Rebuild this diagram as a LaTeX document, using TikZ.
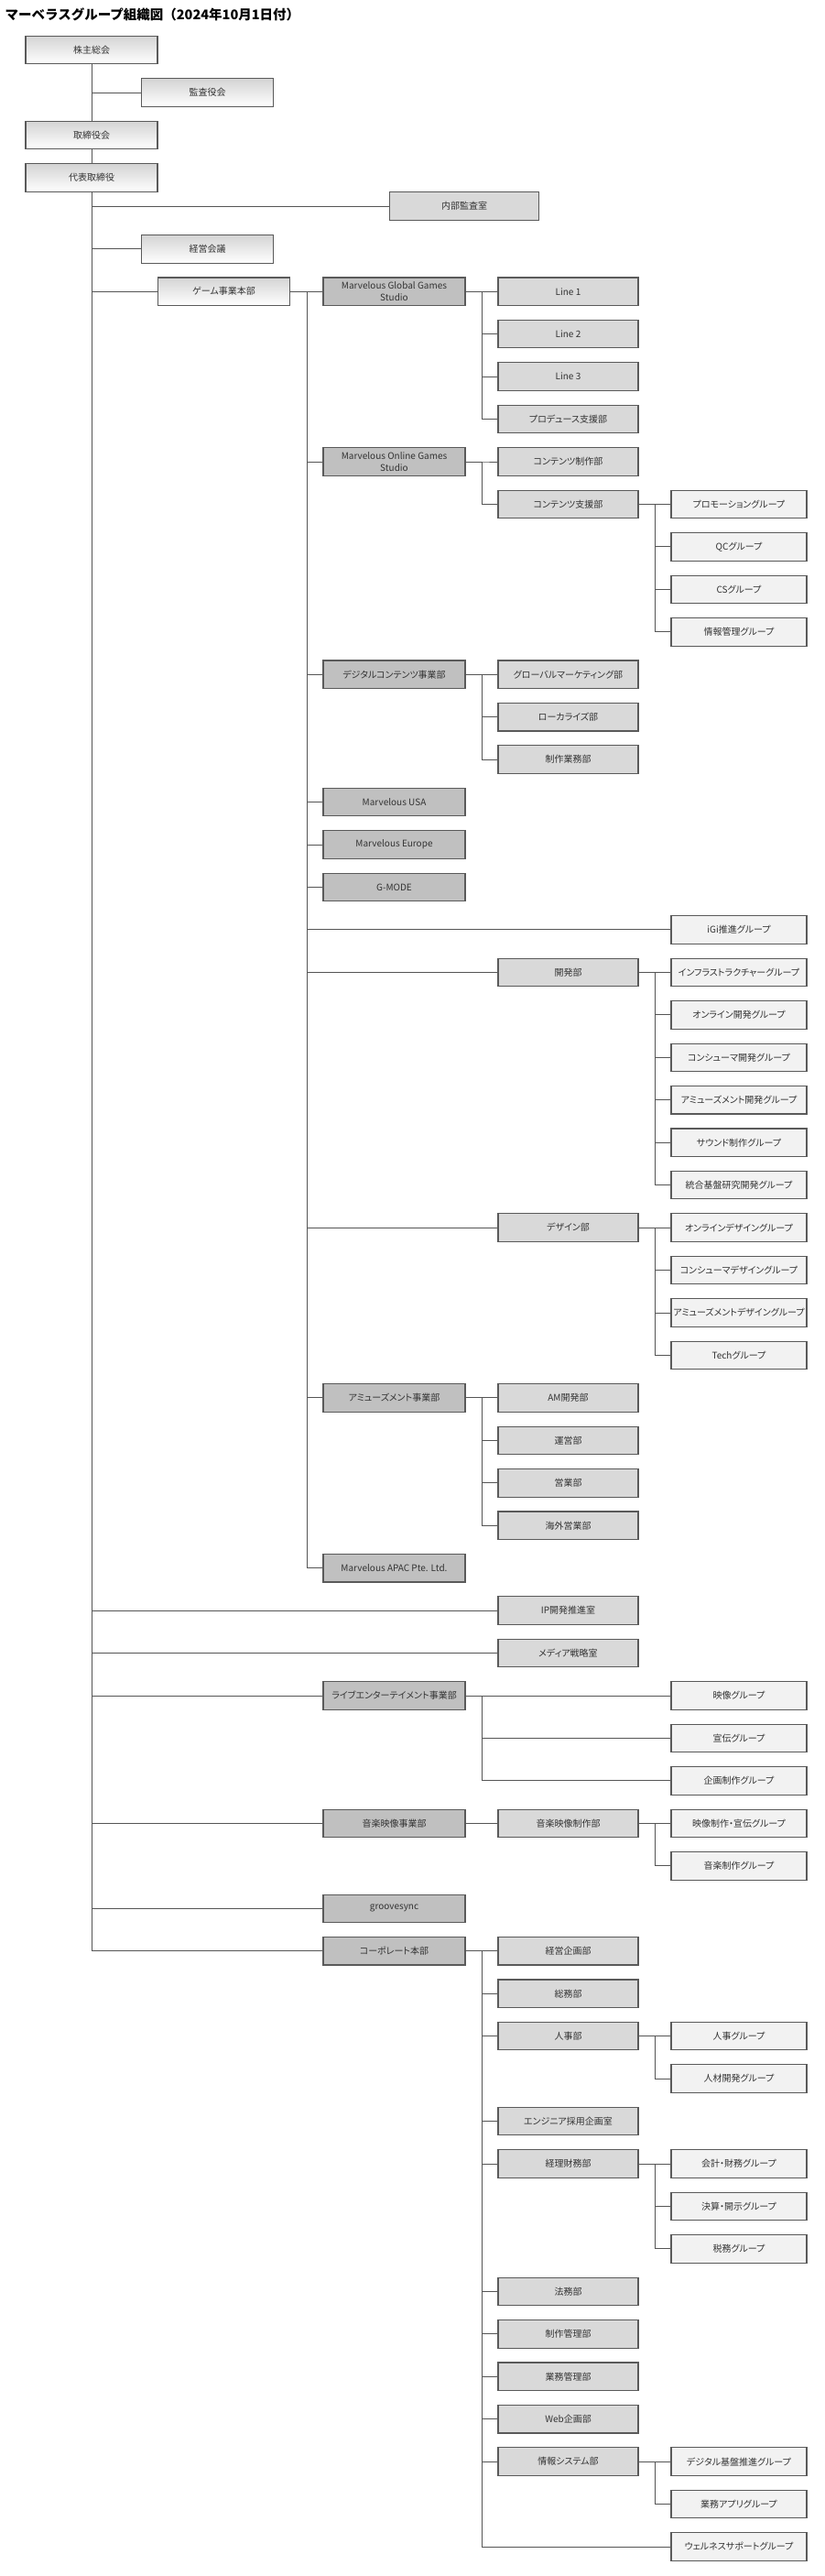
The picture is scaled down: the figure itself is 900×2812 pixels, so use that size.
\documentclass[tikz,border=0pt]{standalone}
\usepackage{fontspec}
\setmainfont{Noto Sans CJK JP}[RawFeature=+palt]
\newfontfamily\titlefont{Noto Sans CJK JP}
\definecolor{boxline}{HTML}{5A5A5A}
\definecolor{linkgray}{HTML}{555555}
\definecolor{boxtext}{HTML}{333333}
\definecolor{topgray}{HTML}{D4D4D4}
\definecolor{unitgray}{HTML}{C0C0C0}
\definecolor{deptgray}{HTML}{D9D9D9}
\definecolor{grpgray}{HTML}{F2F2F2}
% one parent, its children: line to a branch 18px to the right, then across
\newcommand{\orgbranch}[2]{\foreach \c in {#2} {\draw[link] (#1.east) -- ++(18,0) |- (\c.west);}}
\begin{document}
\begin{tikzpicture}[x=1pt, y=-1pt,
        box/.style={draw=boxline, line width=1.1pt, minimum height=30.5pt, inner sep=0pt,
            align=center, text=boxtext, font=\fontsize{10}{13.5}\selectfont},
        topbox/.style={box, minimum width=144pt, top color=topgray, bottom color=white},
        unitbox/.style={box, fill=unitgray, minimum width=155pt},
        deptbox/.style={box, fill=deptgray, minimum width=153pt},
        grpbox/.style={box, fill=grpgray, minimum width=148pt},
        link/.style={draw=linkgray, line width=1pt}]
    \fill[white] (0,0) rectangle (900,2812);

    \node[anchor=west, font=\titlefont\bfseries\fontsize{14.5}{16}\selectfont] (title) at (2,16)
        {マーベラスグループ組織図（2024年10月1日付）};

    % top of the chart
    \node[topbox] (kabu) at (100,54.5) {株主総会};
    \node[topbox] (kansa) at (226.5,101.2) {監査役会};
    \node[topbox] (tori) at (100,147.7) {取締役会};
    \node[topbox] (daihyo) at (100,194.2) {代表取締役};
    \node[deptbox, minimum width=163pt] (naibu) at (507,225.2) {内部監査室};
    \node[topbox] (keiei) at (226.5,271.8) {経営会議};
    \node[topbox] (game) at (244.5,318.2) {ゲーム事業本部};

    % business units
    \foreach \k/\t in {0/{Marvelous Global Games\\Studio}, 4/{Marvelous Online Games\\Studio},
            9/デジタルコンテンツ事業部, 12/Marvelous USA, 13/Marvelous Europe, 14/G-MODE,
            26/アミューズメント事業部, 30/Marvelous APAC Pte. Ltd., 33/ライブエンターテイメント事業部,
            36/音楽映像事業部, 38/groovesync, 39/コーポレート本部} {
        \node[unitbox] (d\k) at (430.5, {318.2+46.45*\k}) {\t};
    }

    % departments
    \foreach \k/\t in {0/Line 1, 1/Line 2, 2/Line 3, 3/プロデュース支援部, 4/コンテンツ制作部,
            5/コンテンツ支援部, 9/グローバルマーケティング部, 10/ローカライズ部, 11/制作業務部,
            16/開発部, 22/デザイン部, 26/AM開発部, 27/運営部, 28/営業部, 29/海外営業部,
            31/IP開発推進室, 32/メディア戦略室, 36/音楽映像制作部, 39/経営企画部, 40/総務部,
            41/人事部, 43/エンジニア採用企画室, 44/経理財務部, 47/法務部, 48/制作管理部,
            49/業務管理部, 50/Web企画部, 51/情報システム部} {
        \node[deptbox] (e\k) at (620.5, {318.2+46.45*\k}) {\t};
    }

    % groups
    \foreach \k/\t in {5/プロモーショングループ, 6/QCグループ, 7/CSグループ, 8/情報管理グループ,
            15/iGi推進グループ, 16/インフラストラクチャーグループ, 17/オンライン開発グループ,
            18/コンシューマ開発グループ, 19/アミューズメント開発グループ, 20/サウンド制作グループ,
            21/統合基盤研究開発グループ, 22/オンラインデザイングループ, 23/コンシューマデザイングループ,
            24/アミューズメントデザイングループ, 25/Techグループ, 33/映像グループ, 34/宣伝グループ,
            35/企画制作グループ, 36/映像制作・宣伝グループ, 37/音楽制作グループ, 41/人事グループ,
            42/人材開発グループ, 44/会計・財務グループ, 45/決算・開示グループ, 46/税務グループ,
            51/デジタル基盤推進グループ, 52/業務アプリグループ, 53/ウェルネスサポートグループ} {
        \node[grpbox] (f\k) at (807, {318.2+46.45*\k}) {\t};
    }

    % connectors
    \draw[link] (kabu.south) -- (tori.north);
    \draw[link] (kabu.south) |- (kansa.west);
    \draw[link] (tori.south) -- (daihyo.north);
    \foreach \c in {naibu, keiei, game, e31, e32, d33, d36, d38, d39} {
        \draw[link] (daihyo.south) |- (\c.west);
    }
    \orgbranch{game}{d0, d4, d9, d12, d13, d14, f15, e16, e22, d26, d30}
    \orgbranch{d0}{e0, e1, e2, e3}
    \orgbranch{d4}{e4, e5}
    \orgbranch{e5}{f5, f6, f7, f8}
    \orgbranch{d9}{e9, e10, e11}
    \orgbranch{e16}{f16, f17, f18, f19, f20, f21}
    \orgbranch{e22}{f22, f23, f24, f25}
    \orgbranch{d26}{e26, e27, e28, e29}
    \orgbranch{d33}{f33, f34, f35}
    \draw[link] (d36.east) -- (e36.west);
    \orgbranch{e36}{f36, f37}
    \orgbranch{d39}{e39, e40, e41, e43, e44, e47, e48, e49, e50, e51, f53}
    \orgbranch{e41}{f41, f42}
    \orgbranch{e44}{f44, f45, f46}
    \orgbranch{e51}{f51, f52}
\end{tikzpicture}
\end{document}
